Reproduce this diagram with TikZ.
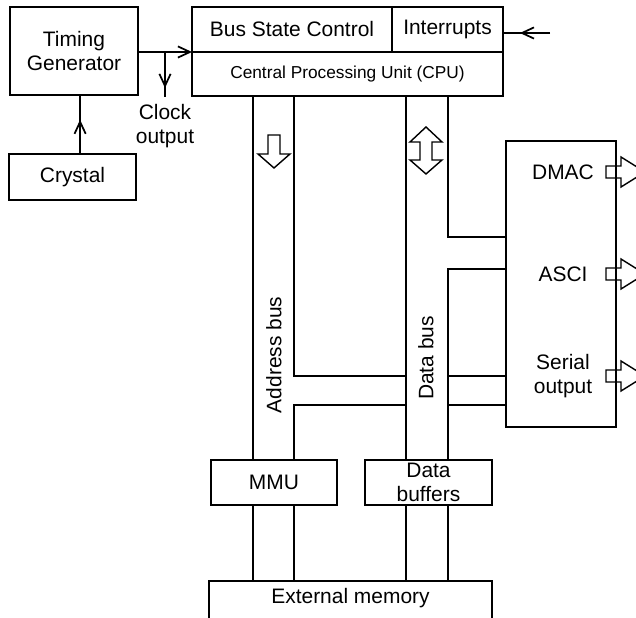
\documentclass[tikz,border=0pt]{standalone}
\usepackage{fontspec}
\setmainfont{Liberation Sans}
\usetikzlibrary{arrows.meta,positioning,calc,decorations.markings}

\begin{document}
\begin{tikzpicture}[
  font=\fontsize{14.9}{17}\selectfont,
  line width=1.25pt,
  box/.style={draw, line width=1.25pt, align=center, inner sep=0pt, outer sep=0pt},
  endtip/.style={-{Straight Barb[length=3mm,width=2.8mm]}},
  midtip/.style={postaction={decorate}, decoration={markings, mark=at position #1 with {\arrow{Straight Barb[length=3mm,width=2.8mm]}}}},
  hollow/.style={draw, line width=1pt, line join=miter}
]
  \useasboundingbox (0,0) rectangle (15.9,15.45);

  % clock side
  \node[box, minimum width=3.2cm, minimum height=2.2cm] (timing) at (1.85,14.175) {Timing\\Generator};
  \node[box, minimum width=3.175cm, minimum height=1.15cm] (crystal) at (1.8125,11.025) {Crystal};

  % processor
  \node[box, minimum width=5cm, minimum height=1.125cm] (bsc) at (7.3,14.7125) {Bus State Control};
  \node[box, minimum width=2.775cm, minimum height=1.125cm, right=0pt of bsc] (intr) {Interrupts};
  \node[box, minimum width=7.775cm, minimum height=1.1cm, anchor=north west, font=\fontsize{12.3}{14}\selectfont] (cpu) at (bsc.south west) {Central Processing Unit (CPU)};

  % peripherals
  \node[box, minimum width=2.75cm, minimum height=7.15cm] (periph) at (14.025,8.35) {};
  \node (dmac) at (14.075,11.15) {DMAC};
  \node (asci) at (14.075,8.6) {ASCI};
  \node[align=center] (serial) at (14.075,6.05) {Serial\\output};

  % memory side
  \node[box, minimum width=3.15cm, minimum height=1.125cm] (mmu) at (6.85,3.3875) {MMU};
  \node[box, minimum width=3.175cm, minimum height=1.125cm] (dbuf) at (10.7125,3.3875) {Data\\buffers};
  \node[minimum width=7.075cm, minimum height=0.85cm, inner sep=0pt, outer sep=0pt] (ext) at (8.7625,0.5) {External memory};
  \draw ([yshift=-0.3cm]ext.south west) |- (ext.north east) -- ([yshift=-0.3cm]ext.south east);

  % bus lines
  \coordinate (a1) at (6.325,0);
  \coordinate (a2) at (7.35,0);
  \coordinate (d1) at (10.15,0);
  \coordinate (d2) at (11.2,0);
  \coordinate (j1) at (0,6.05);
  \coordinate (j2) at (0,5.325);
  \coordinate (p1) at (0,9.525);
  \coordinate (p2) at (0,8.725);

  \draw (cpu.south -| a1) -- (mmu.north -| a1);
  \draw (cpu.south -| a2) |- (d1 |- j1);
  \draw (d1 |- j2) -| (mmu.north -| a2);
  \draw (cpu.south -| d1) -- (dbuf.north -| d1);
  \draw (cpu.south -| d2) |- (periph.west |- p1);
  \draw (periph.west |- p2) -| (dbuf.north -| d2);
  \draw (d2 |- j1) -- (periph.west |- j1);
  \draw (d2 |- j2) -- (periph.west |- j2);
  \foreach \c in {a1,a2} \draw (mmu.south -| \c) -- (ext.north -| \c);
  \foreach \c in {d1,d2} \draw (dbuf.south -| \c) -- (ext.north -| \c);

  \node[rotate=90] (abus) at (6.85,6.575) {Address bus};
  \node[rotate=90] (dbus) at (10.65,6.5) {Data bus};

  % signal arrows
  \draw[endtip] (timing.east |- cpu.north west) -- (cpu.north west);
  \coordinate (clk) at (4.125,13.025);
  \draw[midtip=0.8] (clk |- cpu.north west) -- (clk);
  \node[align=center, below=1pt of clk] (clkout) {Clock\\output};
  \draw[midtip=0.58] ([xshift=0.19cm]crystal.north) -- ([xshift=0.19cm]crystal.north |- timing.south);
  \coordinate (irq) at (13.75,14.625);
  \draw[midtip=0.64] (irq) -- (irq -| intr.east);

  % hollow bus arrows
  \draw[hollow] (6.7,12.075) -- (7.0,12.075) -- (7.0,11.6) -- (7.25,11.6) -- (6.85,11.25) -- (6.45,11.6) -- (6.7,11.6) -- cycle;
  \draw[hollow] (10.65,12.275) -- (11.05,11.9) -- (10.8,11.9) -- (10.8,11.45) -- (11.05,11.45) -- (10.65,11.1) -- (10.25,11.45) -- (10.5,11.45) -- (10.5,11.9) -- (10.25,11.9) -- cycle;
  \foreach \n in {dmac,asci,serial}
    \draw[hollow] ($(periph.east |- \n)+(-0.25,0.15)$) -- ++(0.375,0) -- ++(0,0.225) -- ++(0.6,-0.375) -- ++(-0.6,-0.375) -- ++(0,0.225) -- ++(-0.375,0) -- cycle;
\end{tikzpicture}
\end{document}
